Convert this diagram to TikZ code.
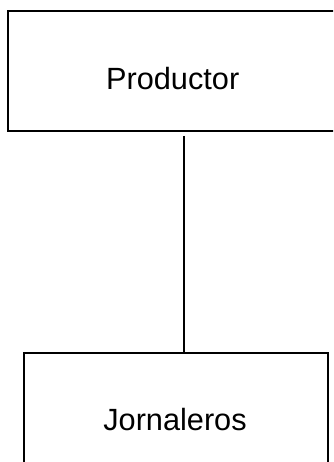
\documentclass[tikz,border=0pt]{standalone}
\usepackage{fontspec}
\setmainfont{Liberation Sans}
\begin{document}
\begin{tikzpicture}[x=1pt,y=-1pt,
  boxstyle/.style={draw=black,line width=1.5pt,rectangle,inner sep=0pt},
  labelstyle/.style={anchor=base,inner sep=0pt,font=\fontsize{30.7}{36}\selectfont},
  linkstyle/.style={draw=black,line width=1.8pt}]
\useasboundingbox (0,0) rectangle (333,462);
\clip (0,0) rectangle (333,462);
\node[boxstyle,minimum width=337pt,minimum height=120pt] (top) at (176.5,71) {};
\node[boxstyle,minimum width=304pt,minimum height=127pt] (bot) at (176,416.5) {};
\node[labelstyle] (ptxt) at (172.7,90) {Productor};
\node[labelstyle] (jtxt) at (175,430) {Jornaleros};
\coordinate (linktop) at (184,136);
\draw[linkstyle] (linktop) -- (linktop |- bot.north);
\end{tikzpicture}
\end{document}
